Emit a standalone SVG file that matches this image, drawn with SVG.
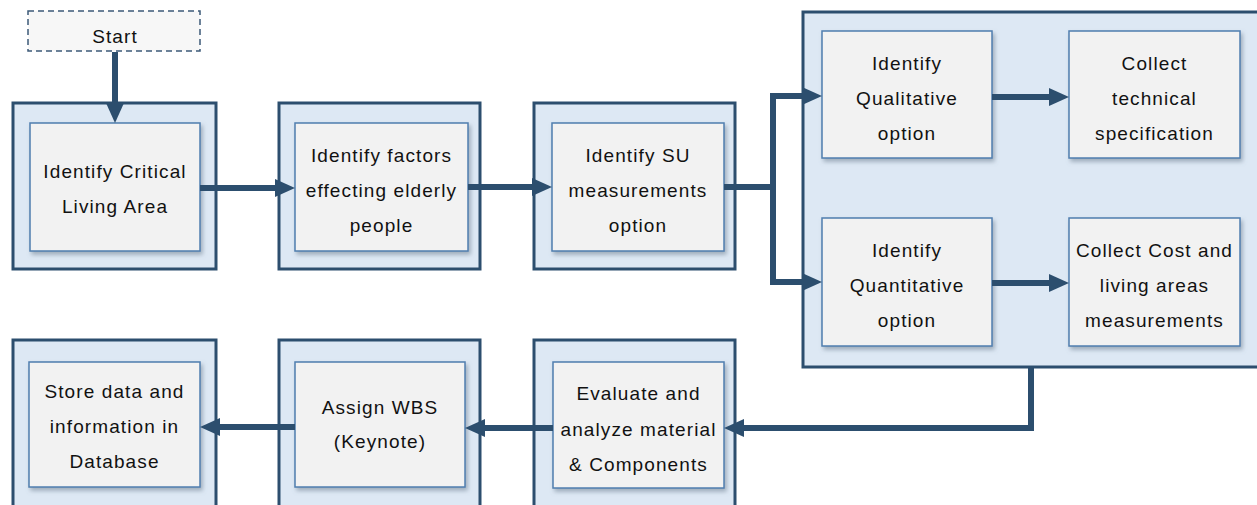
<svg xmlns="http://www.w3.org/2000/svg" width="1257" height="505" viewBox="0 0 1257 505">
  <defs>
    <style>
      .outer { fill: #dde8f4; stroke: #2c4e6e; stroke-width: 3; }
      .inner { fill: #f2f2f2; stroke: #4f7eaf; stroke-width: 1.5; filter: url(#shadow); }
      .start { fill: #f7f7f7; stroke: #3c5a78; stroke-width: 1.5; stroke-dasharray: 6 4; }
      .conn { fill: none; stroke: #2c4e6e; stroke-width: 6; stroke-linejoin: miter; }
      .arrow { marker-end: url(#head); }
      text { font-family: "Liberation Sans", Arial, sans-serif; font-size: 19px; fill: #111111; text-anchor: middle; letter-spacing: 1.1px; }
    </style>
    <filter id="shadow" x="-10%" y="-10%" width="125%" height="130%">
      <feDropShadow dx="2" dy="3" stdDeviation="2" flood-color="#6b7b8c" flood-opacity="0.55"/>
    </filter>
    <marker id="head" markerUnits="userSpaceOnUse" markerWidth="20" markerHeight="18" refX="6" refY="9" orient="auto">
      <path d="M0,0 L20,9 L0,18 z" fill="#2c4e6e"/>
    </marker>
  </defs>

  <!-- container around the qualitative / quantitative branch -->
  <g id="branch-container">
    <rect class="outer" x="803" y="12" width="460" height="355"/>
  </g>

  <g id="start">
    <rect class="start" x="28" y="11" width="172" height="40"/>
    <text x="115" y="43">Start</text>
  </g>

  <g id="critical-area">
    <rect class="outer" x="13" y="103" width="203" height="166"/>
    <rect class="inner" x="30" y="123" width="170" height="128"/>
    <text x="115" y="178">Identify Critical</text>
    <text x="115" y="213">Living Area</text>
  </g>

  <g id="factors">
    <rect class="outer" x="279" y="103" width="201" height="166"/>
    <rect class="inner" x="295" y="123" width="173" height="128"/>
    <text x="381.5" y="162">Identify factors</text>
    <text x="381.5" y="197">effecting elderly</text>
    <text x="381.5" y="232">people</text>
  </g>

  <g id="su-options">
    <rect class="outer" x="534" y="103" width="201" height="166"/>
    <rect class="inner" x="552" y="123" width="172" height="128"/>
    <text x="638" y="162">Identify SU</text>
    <text x="638" y="197">measurements</text>
    <text x="638" y="232">option</text>
  </g>

  <g id="qualitative">
    <rect class="inner" x="822" y="31" width="170" height="127"/>
    <text x="907" y="70">Identify</text>
    <text x="907" y="105">Qualitative</text>
    <text x="907" y="140">option</text>
  </g>

  <g id="technical-spec">
    <rect class="inner" x="1069" y="31" width="171" height="127"/>
    <text x="1154.5" y="70">Collect</text>
    <text x="1154.5" y="105">technical</text>
    <text x="1154.5" y="140">specification</text>
  </g>

  <g id="quantitative">
    <rect class="inner" x="822" y="218" width="170" height="128"/>
    <text x="907" y="257">Identify</text>
    <text x="907" y="292">Quantitative</text>
    <text x="907" y="327">option</text>
  </g>

  <g id="cost-measurements">
    <rect class="inner" x="1069" y="218" width="171" height="128"/>
    <text x="1154.5" y="257">Collect Cost and</text>
    <text x="1154.5" y="292">living areas</text>
    <text x="1154.5" y="327">measurements</text>
  </g>

  <g id="evaluate">
    <rect class="outer" x="534" y="340" width="201" height="170"/>
    <rect class="inner" x="553" y="362" width="171" height="126"/>
    <text x="638.5" y="400">Evaluate and</text>
    <text x="638.5" y="436">analyze material</text>
    <text x="638.5" y="471">&amp; Components</text>
  </g>

  <g id="assign-wbs">
    <rect class="outer" x="279" y="340" width="201" height="170"/>
    <rect class="inner" x="295" y="362" width="170" height="125"/>
    <text x="380" y="414">Assign WBS</text>
    <text x="380" y="448">(Keynote)</text>
  </g>

  <g id="store-data">
    <rect class="outer" x="13" y="340" width="203" height="170"/>
    <rect class="inner" x="29" y="362" width="171" height="125"/>
    <text x="114.5" y="398">Store data and</text>
    <text x="114.5" y="433">information in</text>
    <text x="114.5" y="468">Database</text>
  </g>

  <g id="connectors">
    <path class="conn arrow" d="M115,52 V109"/>
    <path class="conn arrow" d="M200,188 H281"/>
    <path class="conn arrow" d="M468,187 H538"/>
    <path class="conn" d="M724,187 H773"/>
    <path class="conn arrow" d="M773,187 V96 H808"/>
    <path class="conn arrow" d="M773,187 V282 H808"/>
    <path class="conn arrow" d="M992,97 H1055"/>
    <path class="conn arrow" d="M992,283 H1055"/>
    <path class="conn arrow" d="M1031,367 V428 H738"/>
    <path class="conn arrow" d="M553,428 H479"/>
    <path class="conn arrow" d="M295,427 H214"/>
  </g>
</svg>
